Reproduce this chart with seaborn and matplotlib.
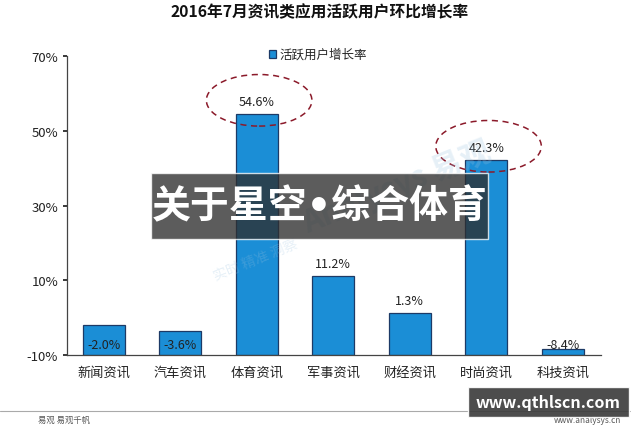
import numpy as np
import pandas as pd
import seaborn as sns
import matplotlib.pyplot as plt
from matplotlib.patches import Ellipse, Rectangle

# dados do grafico
categorias = ['新闻资讯', '汽车资讯', '体育资讯', '军事资讯', '财经资讯', '时尚资讯', '科技资讯']
crescimento = [-2.0, -3.6, 54.6, 11.2, 1.3, 42.3, -8.4]
rotulos = ['-2.0%', '-3.6%', '54.6%', '11.2%', '1.3%', '42.3%', '-8.4%']
yticks = [-10, 10, 30, 50, 70]
ytick_labels = ['-10%', '10%', '30%', '50%', '70%']
destaque = ['体育资讯', '时尚资讯']

sns.set_theme(style='white')
plt.rcParams['font.family'] = ['Noto Sans CJK SC', 'DejaVu Sans']
plt.rcParams['axes.unicode_minus'] = False

base = yticks[0]
df = pd.DataFrame({'categoria': categorias, 'valor': crescimento})
df['altura'] = df['valor'] - base  # barras partem de -10%

fig = plt.figure(figsize=(6.4, 4.27), dpi=100)
ax = fig.add_axes([0.105, 0.166, 0.834, 0.70])

sns.barplot(data=df, x='categoria', y='altura', ax=ax, color='#1b8ed6',
            width=0.55, bottom=base, edgecolor='#1d3a66', linewidth=0.9,
            saturation=1, errorbar=None, label='活跃用户增长率')

ax.set_ylim(base, 70)
ax.set_xlim(-0.48, 6.5)
ax.set_yticks(yticks)
ax.set_yticklabels(ytick_labels)
ax.set_xlabel('')
ax.set_ylabel('')
ax.tick_params(axis='y', labelsize=9.5, colors='#222222', length=3, direction='out', left=True)
ax.tick_params(axis='x', labelsize=9.5, colors='#222222', length=0, pad=8)
for s in ['top', 'right']:
    ax.spines[s].set_visible(False)
for s in ['left', 'bottom']:
    ax.spines[s].set_color('#444444')
    ax.spines[s].set_linewidth(0.9)

# rotulos dos valores
for i, (v, t) in enumerate(zip(crescimento, rotulos)):
    if v > 0:
        ax.text(i, v + 1.5, t, ha='center', va='bottom', fontsize=9, color='#222222')
    else:
        ax.text(i, -7.2, t, ha='center', va='center', fontsize=9, color='#222222')

# elipses tracejadas
for c in destaque:
    i = categorias.index(c)
    v = crescimento[i]
    ax.add_patch(Ellipse((i + 0.03, v + 3.6), 1.38, 13.8, fill=False,
                         edgecolor='#8b1a2a', linestyle=(0, (4, 3)), linewidth=1.1, zorder=5))

ax.legend(loc='upper center', bbox_to_anchor=(0.47, 1.065), frameon=False,
          fontsize=9, handlelength=0.6, handleheight=0.6, handletextpad=0.3)

fig.text(0.5, 0.972, '2016年7月资讯类应用活跃用户环比增长率', ha='center', va='center',
         fontsize=11.3, fontweight='bold', color='#111111')

# marca d'agua
fig.text(0.62, 0.56, 'Analysys 易观', rotation=22, fontsize=22, color='#9cc3e0',
         alpha=0.25, ha='center', va='center', fontweight='bold')
fig.text(0.4, 0.39, '实时 精准 洞察', rotation=22, fontsize=10, color='#9cc3e0',
         alpha=0.25, ha='center', va='center')

# rodape
fig.add_artist(plt.Line2D([0.0, 0.985], [0.035, 0.035], color='#aaaaaa', linewidth=0.8))
fig.text(0.06, 0.004, '易观 易观千帆', fontsize=6, color='#555555', va='bottom')
fig.text(0.97, 0.004, 'www.analysys.cn', fontsize=6, color='#555555', va='bottom', ha='right')

# faixas sobrepostas
fig.add_artist(Rectangle((151 / 640, 1 - 240 / 427), 337 / 640, 66 / 427,
                         transform=fig.transFigure, facecolor='#2e2e2e', alpha=0.78, zorder=10))
fig.text(320 / 640, 1 - 207 / 427, '关于星空•综合体育', ha='center', va='center',
         fontsize=28, fontweight='bold', color='white', zorder=11,
         family=['DejaVu Sans', 'Noto Sans CJK SC'])
fig.add_artist(Rectangle((468 / 640, 1 - 418 / 427), 161 / 640, 30 / 427,
                         transform=fig.transFigure, facecolor='#3a3a3a', alpha=0.9, zorder=10))
fig.text(548 / 640, 1 - 403 / 427, 'www.qthlscn.com', ha='center', va='center',
         fontsize=11.5, fontweight='bold', color='white', zorder=11)

fig.savefig('out.png', dpi=100)
